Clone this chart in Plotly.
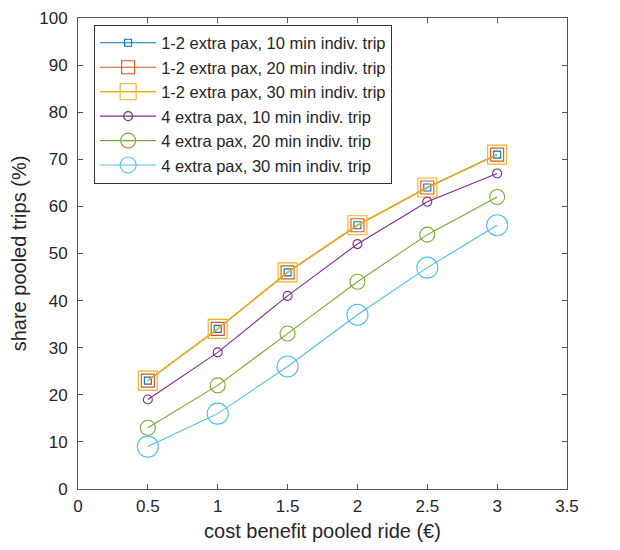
import plotly.graph_objects as go

x_vals = [0.5, 1, 1.5, 2, 2.5, 3]
s_12_10 = [23, 34, 46, 56, 64, 71]
s_12_20 = [23, 34, 46, 56, 64, 71]
s_12_30 = [23, 34, 46, 56, 64, 71]
s_4_10 = [19, 29, 41, 52, 61, 67]
s_4_20 = [13, 22, 33, 44, 54, 62]
s_4_30 = [9, 16, 26, 37, 47, 56]

names = [
    "1-2 extra pax, 10 min indiv. trip",
    "1-2 extra pax, 20 min indiv. trip",
    "1-2 extra pax, 30 min indiv. trip",
    "4 extra pax, 10 min indiv. trip",
    "4 extra pax, 20 min indiv. trip",
    "4 extra pax, 30 min indiv. trip",
]
series = [s_12_10, s_12_20, s_12_30, s_4_10, s_4_20, s_4_30]
colors = ["#0072BD", "#D95319", "#EDB120", "#7E2F8E", "#77AC30", "#4DBEEE"]
symbols = ["square-open", "square-open", "square-open", "circle-open", "circle-open", "circle-open"]
sizes = [7, 13, 19, 9, 15, 21]
widths = [1.1, 1.1, 1.5, 1.1, 1.1, 1.1]

FONT = "Liberation Sans, Arial"
fig = go.Figure()
for i in range(6):
    fig.add_trace(go.Scatter(
        x=x_vals, y=series[i], name=names[i], mode="lines+markers",
        line=dict(color=colors[i], width=widths[i]),
        marker=dict(symbol=symbols[i], size=sizes[i], color=colors[i],
                    line=dict(color=colors[i], width=1.1)),
    ))

axis_common = dict(
    showgrid=False, zeroline=False, showline=True, linecolor="#555555", linewidth=1,
    mirror="ticks", ticks="inside", ticklen=5, tickcolor="#555555",
    automargin=False,
    tickfont=dict(family=FONT, size=17, color="#262626"),
)
fig.update_xaxes(range=[0, 3.5], tickvals=[0, 0.5, 1, 1.5, 2, 2.5, 3, 3.5],
                 ticktext=["0", "0.5", "1", "1.5", "2", "2.5", "3", "3.5"],
                 title=dict(text="cost benefit pooled ride (€)",
                            font=dict(family=FONT, size=20, color="#262626"),
                            standoff=8),
                 ticklabelstandoff=2,
                 **axis_common)
fig.update_yaxes(range=[0, 100], tickvals=list(range(0, 101, 10)),
                 title=dict(text="share pooled trips (%)",
                            font=dict(family=FONT, size=20, color="#262626"),
                            standoff=8),
                 ticklabelstandoff=6,
                 **axis_common)

fig.update_layout(
    width=612, height=542,
    margin=dict(l=70, r=53, t=10, b=61),
    paper_bgcolor="white", plot_bgcolor="white",
    legend=dict(x=0.033, y=0.986, xanchor="left", yanchor="top",
                bordercolor="#333333", borderwidth=1, bgcolor="white",
                font=dict(family=FONT, size=16.5, color="#262626"),
                itemwidth=56, tracegroupgap=0),
)

fig.write_html("out.html")
